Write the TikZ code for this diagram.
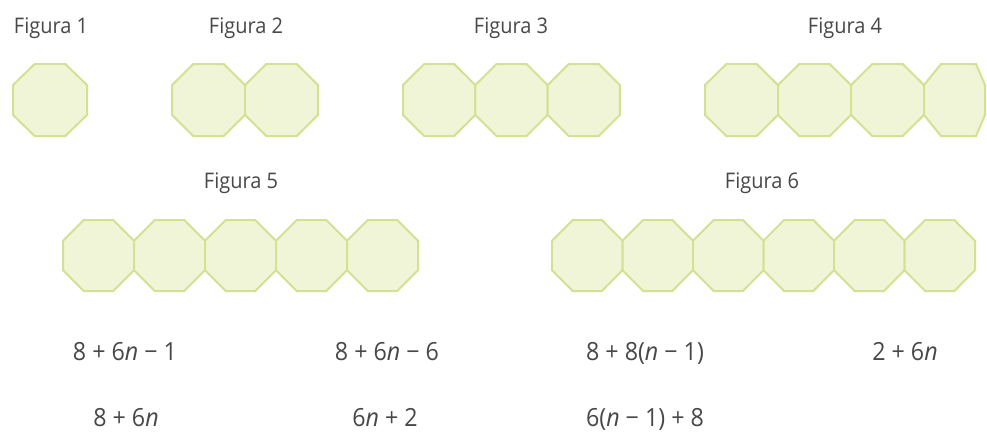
\documentclass[tikz,border=0pt]{standalone}
\usepackage{fontspec}
\setmainfont[FakeStretch=0.93]{Open Sans}
\definecolor{octfill}{RGB}{241,245,216}
\definecolor{octline}{RGB}{212,224,146}
\definecolor{txtgray}{RGB}{72,72,72}
\tikzset{
  octstyle/.style={fill=octfill, draw=octline, line width=2pt, line join=miter},
  figlab/.style={anchor=base, inner sep=0pt, text=txtgray, font=\fontsize{21.5}{26}\selectfont},
  eqlab/.style={anchor=base, inner sep=0pt, text=txtgray, font=\fontsize{25}{30}\selectfont},
}
\newcommand\octo[4]{%
  \pgfmathsetmacro\obl{#1}%
  \pgfmathsetmacro\obr{#2}%
  \pgfmathsetmacro\obh{0.2929*(\obr-\obl)}%
  \pgfmathsetmacro\obv{0.2929*((#4)-(#3))}%
  \filldraw[octstyle] (\obl+\obh,#3) -- (\obr-\obh,#3) -- (\obr,#3+\obv) -- (\obr,#4-\obv)
    -- (\obr-\obh,#4) -- (\obl+\obh,#4) -- (\obl,#4-\obv) -- (\obl,#3+\obv) -- cycle;}
\begin{document}
\begin{tikzpicture}[x=1pt, y=-1pt]
\fill[white] (0,0) rectangle (987,434);
\useasboundingbox (0,0) rectangle (987,434);
% row 1 labels
\node[figlab] (f1) at (51,33) {Figura 1};
\node[figlab] (f2) at (246,33) {Figura 2};
\node[figlab] (f3) at (511,33) {Figura 3};
\node[figlab] (f4) at (845,33) {Figura 4};
% figure 1
\octo{13}{87}{64}{136}
% figure 2
\foreach \i in {0,1}{\octo{172+73*\i}{245+73*\i}{64}{136}}
% figure 3
\foreach \i in {0,1,2}{\octo{403+72.3*\i}{475.3+72.3*\i}{64}{136}}
% figure 4
\foreach \i in {0,1,2}{\octo{705+73*\i}{778+73*\i}{64}{136}}
\filldraw[octstyle] (941,64) -- (976,64) -- (985,85) -- (985,115) -- (976,136) -- (941,136)
  -- (924,115) -- (924,85) -- cycle;
% row 2 labels
\node[figlab] (f5) at (241,188) {Figura 5};
\node[figlab] (f6) at (762,188) {Figura 6};
% figure 5
\foreach \i in {0,...,4}{\octo{63+71*\i}{134+71*\i}{220}{291}}
% figure 6
\foreach \i in {0,...,5}{\octo{552+70.5*\i}{622.5+70.5*\i}{220}{291}}
% expressions
\node[eqlab] (e1) at (125,360) {8 + 6\textit{n} − 1};
\node[eqlab] (e2) at (387,360) {8 + 6\textit{n} − 6};
\node[eqlab] (e3) at (645,360) {8 + 8(\textit{n} − 1)};
\node[eqlab] (e4) at (905,360) {2 + 6\textit{n}};
\node[eqlab] (e5) at (126,426) {8 + 6\textit{n}};
\node[eqlab] (e6) at (385,426) {6\textit{n} + 2};
\node[eqlab] (e7) at (645,426) {6(\textit{n} − 1) + 8};
\end{tikzpicture}
\end{document}
